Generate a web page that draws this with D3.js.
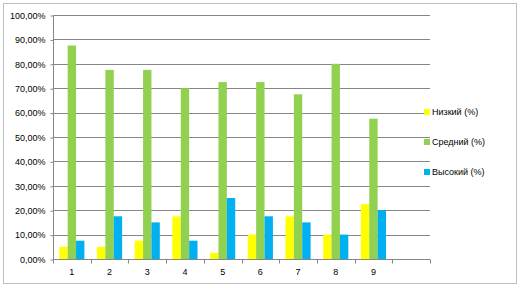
<!DOCTYPE html>
<html lang="ru">
<head>
<meta charset="UTF-8">
<title>Chart</title>
<style>
  body { margin: 0; background: #fff; }
  svg { display: block; font-family: "Liberation Sans", Arial, sans-serif; }
  .tick text { font-size: 9px; fill: #000; }
  .legend text { font-size: 9px; fill: #000; }
</style>
</head>
<body>
<svg width="524" height="288"></svg>
<script src="https://cdn.jsdelivr.net/npm/d3@7"></script>
<script>
  // data
  var categories = ["1", "2", "3", "4", "5", "6", "7", "8", "9", ""];
  var seriesNames = ["Низкий (%)", "Средний (%)", "Высокий (%)"];
  var low  = [5, 5, 7.5, 17.5, 2.5, 10, 17.5, 10, 22.5];
  var mid  = [87.5, 77.5, 77.5, 70, 72.5, 72.5, 67.5, 80, 57.5];
  var high = [7.5, 17.5, 15, 7.5, 25, 17.5, 15, 10, 20];
  var yTicks = [0, 10, 20, 30, 40, 50, 60, 70, 80, 90, 100];
  var colors = ["#ffff00", "#92d050", "#00b0f0"];

  var series = [low, mid, high];

  var svg = d3.select("svg");

  // chart border
  svg.append("rect")
    .attr("x", 3.5).attr("y", 3.5)
    .attr("width", 513).attr("height", 280)
    .attr("fill", "#fff")
    .attr("stroke", "#bfbfbf");

  var plotLeft = 53, plotRight = 430, plotTop = 15, plotBottom = 259;

  var x = d3.scaleBand().domain(d3.range(categories.length))
    .range([plotLeft, plotRight]).paddingInner(0).paddingOuter(0);
  // gap width 150%: 0.75 bar on each side of the group
  var xs = d3.scaleBand().domain(d3.range(series.length))
    .range([0, x.bandwidth()]).paddingInner(0).paddingOuter(0.75);
  var y = d3.scaleLinear().domain([0, 100]).range([plotBottom, plotTop]);

  var fmt = function (d) { return d.toFixed(2).replace(".", ",") + "%"; };

  // gridlines
  svg.append("g")
    .selectAll("line").data(yTicks.slice(1)).join("line")
    .attr("x1", plotLeft).attr("x2", plotRight)
    .attr("y1", function (d) { return Math.round(y(d)) + 0.5; })
    .attr("y2", function (d) { return Math.round(y(d)) + 0.5; })
    .attr("stroke", "#868686");

  // bars
  var groups = svg.append("g").selectAll("g").data(series).join("g")
    .attr("fill", function (d, i) { return colors[i]; });
  groups.each(function (vals, si) {
    d3.select(this).selectAll("rect").data(vals).join("rect")
      .attr("x", function (d, i) { return x(i) + xs(si); })
      .attr("width", xs.bandwidth())
      .attr("y", function (d) { return y(d); })
      .attr("height", function (d) { return y(0) - y(d); });
  });

  // y axis
  var yAxis = svg.append("g")
    .attr("transform", "translate(" + (plotLeft + 0.5) + ",0.5)")
    .call(d3.axisLeft(y).tickValues(yTicks).tickFormat(fmt).tickSize(3).tickPadding(5));
  yAxis.selectAll("path, line").attr("stroke", "#868686");
  yAxis.select(".domain").attr("d", "M0," + plotTop + "V" + plotBottom);

  // x axis
  var xAxis = svg.append("g")
    .attr("transform", "translate(0," + (plotBottom + 0.5) + ")")
    .call(d3.axisBottom(x).tickFormat(function (i) { return categories[i]; }).tickSize(0).tickPadding(9));
  xAxis.select(".domain").attr("stroke", "#868686").attr("d", "M" + plotLeft + ",0H" + plotRight);
  xAxis.selectAll(".tick").filter(function (i) { return i === categories.length - 1; }).select("text").remove();
  // tick marks between categories
  xAxis.append("g").selectAll("line").data(d3.range(categories.length + 1)).join("line")
    .attr("x1", function (i) { return Math.round(plotLeft + i * x.step()) + 0.5; })
    .attr("x2", function (i) { return Math.round(plotLeft + i * x.step()) + 0.5; })
    .attr("y1", 0).attr("y2", 4)
    .attr("stroke", "#868686");

  // legend
  var legend = svg.append("g").attr("class", "legend")
    .selectAll("g").data(seriesNames).join("g")
    .attr("transform", function (d, i) { return "translate(424," + (112 + i * 30) + ")"; });
  legend.append("rect")
    .attr("x", 0).attr("y", -3).attr("width", 6).attr("height", 6)
    .attr("fill", function (d, i) { return colors[i]; });
  legend.append("text")
    .attr("x", 8).attr("y", 0).attr("dy", "0.35em")
    .text(function (d) { return d; });
</script>
</body>
</html>
